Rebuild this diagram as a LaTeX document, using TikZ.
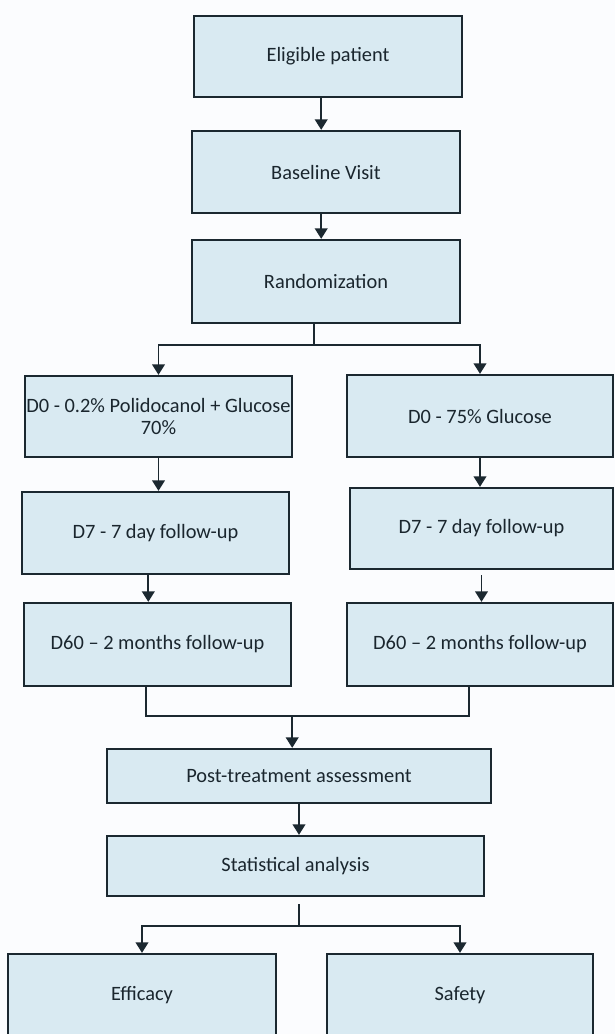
\documentclass[tikz,border=0pt]{standalone}
\usepackage{fontspec}
\setmainfont{Carlito}
\usetikzlibrary{arrows.meta}
\definecolor{boxfill}{RGB}{217,234,242}
\definecolor{boxline}{RGB}{27,40,48}
\definecolor{boxtext}{RGB}{26,38,46}
\definecolor{pagebg}{RGB}{251,252,254}
\begin{document}
\begin{tikzpicture}[x=0.025cm,y=-0.025cm,
   box/.style={draw=boxline,fill=boxfill,line width=1.6pt,shape=rectangle,
     text=boxtext,align=center,inner sep=0pt,
     font=\fontsize{14.5}{16}\selectfont},
   arr/.style={draw=boxline,line width=1.4pt,-{Triangle[width=9pt,length=7.5pt]}},
   joinline/.style={draw=boxline,line width=1.4pt}]
   \useasboundingbox (0,0) rectangle (615,1034);
   \clip (0,0) rectangle (615,1034);
   \fill[pagebg] (0,0) rectangle (615,1034);

   \path (328,56.5) node[box,minimum width=6.7cm,minimum height=2.025cm] (Elig) {Eligible patient};
   \path (326,172) node[box,minimum width=6.7cm,minimum height=2.05cm] (Base) {Baseline Visit};
   \path (326,281.5) node[box,minimum width=6.7cm,minimum height=2.075cm] (Rand) {Randomization};

   \path (158.5,416.5) node[box,minimum width=6.675cm,minimum height=2.025cm] (PolD0)
   {D0 - 0.2\% Polidocanol + Glucose\\70\%};
   \path (155.5,533) node[box,minimum width=6.675cm,minimum height=2.05cm] (PolD7) {D7 - 7 day follow-up};
   \path (157.5,644.5) node[box,minimum width=6.675cm,minimum height=2.075cm] (PolD60) {D60 -- 2 months follow-up};

   \path (480,416) node[box,minimum width=6.65cm,minimum height=2.05cm] (GluD0) {D0 - 75\% Glucose};
   \path (481.5,528.5) node[box,minimum width=6.575cm,minimum height=2.025cm] (GluD7) {D7 - 7 day follow-up};
   \path (480,644.5) node[box,minimum width=6.65cm,minimum height=2.075cm] (GluD60) {D60 -- 2 months follow-up};

   \path (299,776) node[box,minimum width=9.6cm,minimum height=1.35cm] (Post) {Post-treatment assessment};
   \path (295.5,866) node[box,minimum width=9.425cm,minimum height=1.5cm] (Stat) {Statistical analysis};

   \path (142,995) node[box,minimum width=6.7cm,minimum height=2.05cm] (Eff) {Efficacy};
   \path (460,995) node[box,minimum width=6.65cm,minimum height=2.05cm] (Saf) {Safety};

   % arrows
   \draw[arr] ([xshift=-0.17cm]Elig.south) -- ([xshift=-0.17cm]Elig.south |- Base.north);
   \draw[arr] ([xshift=-0.12cm]Base.south) -- ([xshift=-0.12cm]Base.south |- Rand.north);
   \draw[arr] ([xshift=-0.3cm]Rand.south) -- ++(0,21) -| (PolD0.north);
   \draw[arr] ([xshift=-0.3cm]Rand.south) -- ++(0,21) -| (GluD0.north);
   \draw[arr] (PolD0.south) -- (PolD0.south |- PolD7.north);
   \draw[arr] ([xshift=-0.18cm]PolD7.south) -- ([xshift=-0.18cm]PolD7.south |- PolD60.north);
   \draw[arr] (GluD0.south) -- (GluD0.south |- GluD7.north);
   \draw[arr] (GluD7.south) ++(0,5) -- (GluD7.south |- GluD60.north);
   \draw[joinline] ([xshift=-0.29cm]PolD60.south) -- ++(0,29) -| ([xshift=-0.275cm]GluD60.south);
   \path (PolD60.south) ++(0,29) coordinate (mrg);
   \draw[arr] ([xshift=-0.17cm]Post.north |- mrg) -- ([xshift=-0.17cm]Post.north);
   \draw[arr] (Post.south) -- (Post.south |- Stat.north);
   \draw[arr] ([xshift=0.09cm]Stat.south) ++(0,7) -- ++(0,22) -| (Eff.north);
   \draw[arr] ([xshift=0.09cm]Stat.south) ++(0,7) -- ++(0,22) -| (Saf.north);
\end{tikzpicture}
\end{document}
